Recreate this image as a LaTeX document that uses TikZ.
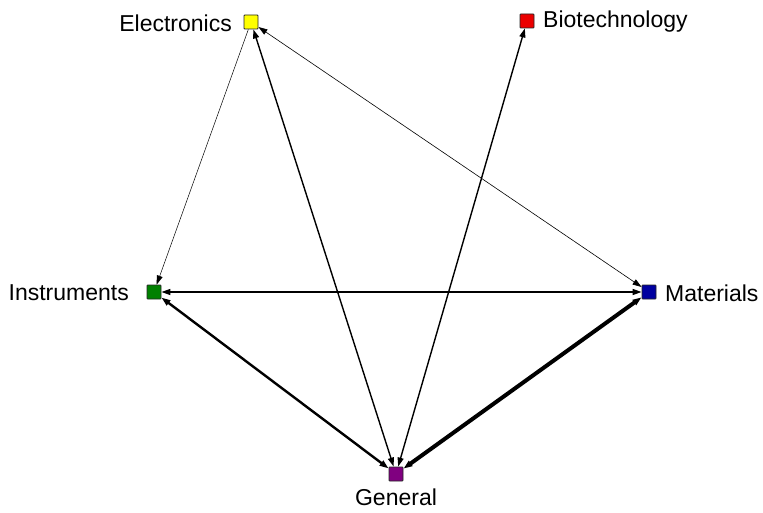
\documentclass[tikz,border=0pt]{standalone}
\usepackage{fontspec}
\setmainfont{Liberation Sans}
\usetikzlibrary{arrows.meta}
\definecolor{vyellow}{RGB}{255,255,0}
\definecolor{vred}{RGB}{235,0,0}
\definecolor{vgreen}{RGB}{0,128,0}
\definecolor{vblue}{RGB}{0,0,160}
\definecolor{vpurple}{RGB}{128,0,128}
\tikzset{
  vertex/.style={draw=black!85, line width=0.9pt, minimum size=14pt, inner sep=0pt, rounded corners=0.8pt},
  lbl/.style={font=\fontsize{23}{27}\selectfont, inner sep=0pt},
  link/.style={draw=black, >={Triangle[length=9pt,width=6pt]}},
}
\begin{document}
\begin{tikzpicture}[x=1pt,y=-1pt]
\useasboundingbox (0,0) rectangle (763,513);
% vertices
\node[vertex, fill=vyellow] (ele) at (251,22) {};
\node[vertex, fill=vred]    (bio) at (527,21) {};
\node[vertex, fill=vgreen]  (ins) at (154,292) {};
\node[vertex, fill=vblue]   (mat) at (649,292) {};
\node[vertex, fill=vpurple] (gen) at (396,474) {};
% labels
\node[lbl, anchor=east] (tele) at (232,23) {Electronics};
\node[lbl, anchor=west] (tbio) at (543,22) {Biotechnology};
\node[lbl, anchor=east] (tins) at (129,293) {Instruments};
\node[lbl, anchor=west] (tmat) at (665,293) {Materials};
\node[lbl, anchor=north] (tgen) at (396,489) {General};
% links
\draw[link, ->, line width=0.5pt] (ele) -- (ins);
\draw[link, <->, line width=0.6pt] (ele) -- (mat);
\draw[link, <->, line width=1.4pt] (ele) -- (gen);
\draw[link, <->, line width=1.4pt] (bio) -- (gen);
\draw[link, <->, line width=1.4pt] (ins) -- (mat);
\draw[link, <->, line width=2.4pt] (ins) -- (gen);
\draw[link, <->, line width=4pt] (mat) -- (gen);
\end{tikzpicture}
\end{document}
